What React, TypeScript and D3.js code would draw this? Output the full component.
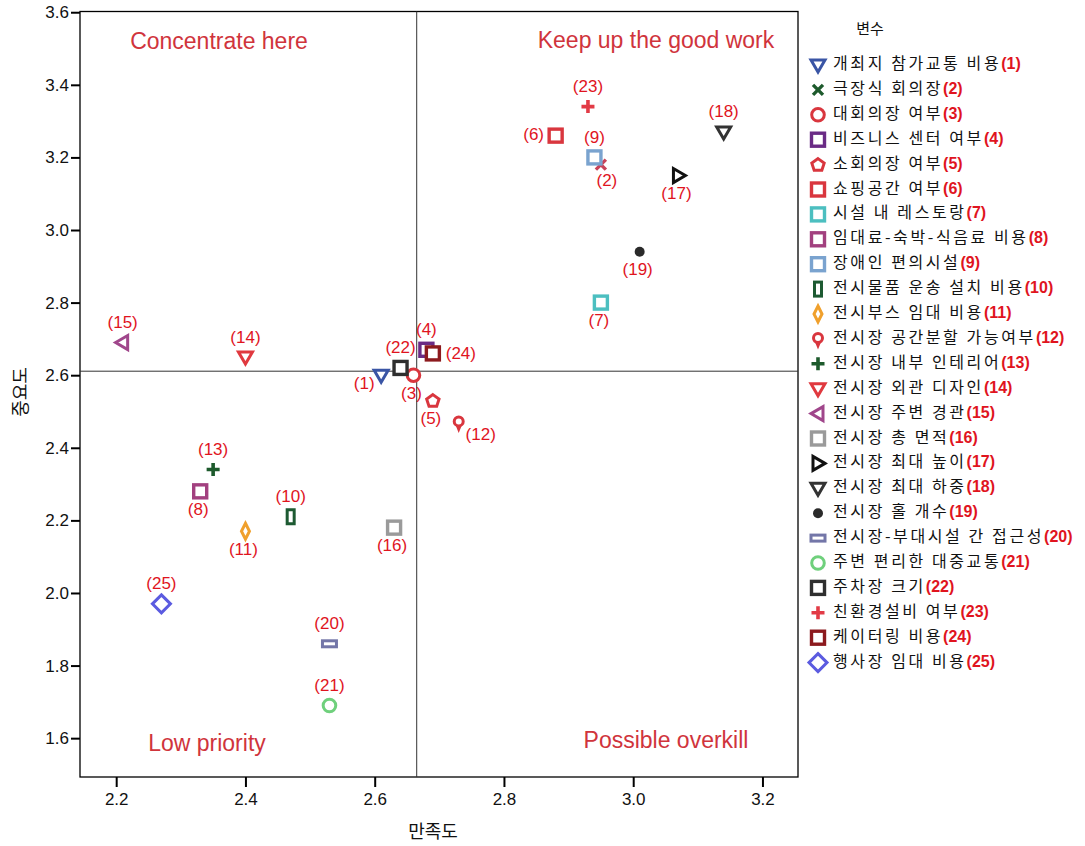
import * as d3 from 'd3';
import { useEffect, useRef } from 'react';

// variable names (legend order)
const names = [
  '개최지 참가교통 비용', '극장식 회의장', '대회의장 여부', '비즈니스 센터 여부', '소회의장 여부',
  '쇼핑공간 여부', '시설 내 레스토랑', '임대료-숙박-식음료 비용', '장애인 편의시설', '전시물품 운송 설치 비용',
  '전시부스 임대 비용', '전시장 공간분할 가능여부', '전시장 내부 인테리어', '전시장 외관 디자인', '전시장 주변 경관',
  '전시장 총 면적', '전시장 최대 높이', '전시장 최대 하중', '전시장 홀 개수', '전시장-부대시설 간 접근성',
  '주변 편리한 대중교통', '주차장 크기', '친환경설비 여부', '케이터링 비용', '행사장 임대 비용',
];

// satisfaction (x) and importance (y)
const satisfaction = [
  2.61, 2.95, 2.66, 2.68, 2.69, 2.88, 2.95, 2.33, 2.94, 2.47,
  2.40, 2.73, 2.35, 2.40, 2.21, 2.63, 3.07, 3.14, 3.01, 2.53,
  2.53, 2.64, 2.93, 2.69, 2.27,
];
const importance = [
  2.60, 3.18, 2.60, 2.67, 2.53, 3.26, 2.80, 2.28, 3.20, 2.21,
  2.17, 2.47, 2.34, 2.65, 2.69, 2.18, 3.15, 3.27, 2.94, 1.86,
  1.69, 2.62, 3.34, 2.66, 1.97,
];

const symbols = [
  'triDown', 'cross', 'circle', 'square', 'pentagon', 'square', 'square', 'square', 'square', 'tallRect',
  'thinDiamond', 'pin', 'plus', 'triDown', 'triLeft', 'square', 'triRight', 'triDown', 'dot', 'wideRect',
  'circle', 'square', 'plus', 'square', 'diamond',
];
const colors = [
  '#3a55a5', '#1d5a2c', '#d9363e', '#6a2b85', '#d9363e', '#d9363e', '#4cbfc0', '#a2407f', '#7aa3cf', '#1d5a32',
  '#f0a02c', '#d9363e', '#1d5a2c', '#e0393f', '#a0468b', '#9a9a9a', '#111111', '#333333', '#2a2a2a', '#7376a8',
  '#6fd07c', '#2f2f2f', '#e23b46', '#8c1a1e', '#5b5be0',
];
// marker (2) appears reddish inside the plot
const plotColorOverride: Record<number, string> = { 1: '#c8435a' };

// label placement relative to marker
const labelPos = [
  'BL', 'B2', 'B', 'T', 'B', 'L', 'B', 'B', 'T', 'T',
  'B', 'BR', 'T', 'T', 'T', 'B', 'B', 'T', 'B', 'T',
  'T', 'T', 'T', 'R', 'T',
];

const quadrantLabels = ['Concentrate here', 'Keep up the good work', 'Low priority', 'Possible overkill'];
const xTicks = [2.2, 2.4, 2.6, 2.8, 3.0, 3.2];
const yTicks = [1.6, 1.8, 2.0, 2.2, 2.4, 2.6, 2.8, 3.0, 3.2, 3.4, 3.6];
const meanX = 2.665;
const meanY = 2.611;

const offsets: Record<string, [number, number]> = {
  T: [0, -19], B: [-2, 19], L: [-22, 0], R: [28, 1], BL: [-17, 9], BR: [22, 13], B2: [6, 17],
};

const RED = '#e0141e';
const LATIN = 'Arial, "Liberation Sans", Helvetica, sans-serif';
const KOREAN = '"Noto Sans CJK KR", "Noto Sans", sans-serif';

function drawSymbol(g: d3.Selection<SVGGElement, unknown, null, undefined>, type: string, color: string) {
  const sw = 3;
  switch (type) {
    case 'square':
      g.append('rect').attr('x', -6.5).attr('y', -6.5).attr('width', 13).attr('height', 13)
        .attr('fill', '#fff').attr('stroke', color).attr('stroke-width', 3.4);
      break;
    case 'tallRect':
      g.append('rect').attr('x', -3.5).attr('y', -7).attr('width', 7).attr('height', 14)
        .attr('fill', '#fff').attr('stroke', color).attr('stroke-width', sw);
      break;
    case 'wideRect':
      g.append('rect').attr('x', -7).attr('y', -3).attr('width', 14).attr('height', 6)
        .attr('fill', '#fff').attr('stroke', color).attr('stroke-width', sw);
      break;
    case 'circle':
      g.append('circle').attr('r', 6.3).attr('fill', '#fff').attr('stroke', color).attr('stroke-width', sw);
      break;
    case 'dot':
      g.append('circle').attr('r', 5).attr('fill', color);
      break;
    case 'triDown':
      g.append('path').attr('d', 'M-7,-5L7,-5L0,7Z').attr('fill', '#fff')
        .attr('stroke', color).attr('stroke-width', sw).attr('stroke-linejoin', 'miter');
      break;
    case 'triLeft':
      g.append('path').attr('d', 'M-7,0L5,-7L5,7Z').attr('fill', '#fff')
        .attr('stroke', color).attr('stroke-width', sw);
      break;
    case 'triRight':
      g.append('path').attr('d', 'M7,0L-5,-7L-5,7Z').attr('fill', '#fff')
        .attr('stroke', color).attr('stroke-width', sw);
      break;
    case 'pentagon': {
      const pts = d3.range(5).map((i) => {
        const a = -Math.PI / 2 + (i * 2 * Math.PI) / 5;
        return [Math.cos(a) * 6.5, Math.sin(a) * 6.5 + 0.5];
      });
      g.append('path').attr('d', 'M' + pts.map((p) => p.join(',')).join('L') + 'Z')
        .attr('fill', '#fff').attr('stroke', color).attr('stroke-width', sw);
      break;
    }
    case 'diamond':
      g.append('path').attr('d', 'M0,-9L9,0L0,9L-9,0Z').attr('fill', '#fff')
        .attr('stroke', color).attr('stroke-width', sw);
      break;
    case 'thinDiamond':
      g.append('path').attr('d', 'M0,-8L4,0L0,8L-4,0Z').attr('fill', '#fff')
        .attr('stroke', color).attr('stroke-width', 3);
      break;
    case 'plus':
      g.append('path').attr('d', 'M-6.5,0H6.5M0,-6.5V6.5').attr('stroke', color).attr('stroke-width', 3.6);
      break;
    case 'cross':
      g.append('path').attr('d', 'M-5,-5L5,5M5,-5L-5,5').attr('stroke', color).attr('stroke-width', 3.4);
      break;
    case 'pin':
      g.append('path').attr('d', 'M-2,3L0,8L2,3Z').attr('fill', color).attr('stroke', color).attr('stroke-width', 2);
      g.append('circle').attr('cy', -1).attr('r', 4.5).attr('fill', '#fff')
        .attr('stroke', color).attr('stroke-width', 3);
      break;
  }
}

const App = () => {
  const svgRef = useRef<SVGSVGElement | null>(null);

  useEffect(() => {
    const width = 1085;
    const height = 846;
    const plot = { left: 80, right: 798, top: 11.5, bottom: 777 };

    const x = d3.scaleLinear().domain([2.144, 3.255]).range([plot.left, plot.right]);
    const y = d3.scaleLinear().domain([1.493, 3.602]).range([plot.bottom, plot.top]);

    const svg = d3.select(svgRef.current).attr('width', width).attr('height', height);
    svg.selectAll('*').remove();

    svg.append('rect').attr('width', width).attr('height', height).attr('fill', '#fff');

    // frame
    svg.append('rect')
      .attr('x', plot.left).attr('y', plot.top)
      .attr('width', plot.right - plot.left).attr('height', plot.bottom - plot.top)
      .attr('fill', 'none').attr('stroke', '#000').attr('stroke-width', 1.3);

    // axes
    const xAxis = svg.append('g')
      .attr('transform', `translate(0,${plot.bottom})`)
      .call(d3.axisBottom(x).tickValues(xTicks).tickFormat(d3.format('.1f')).tickSize(10).tickPadding(6).tickSizeOuter(0));
    const yAxis = svg.append('g')
      .attr('transform', `translate(${plot.left},0)`)
      .call(d3.axisLeft(y).tickValues(yTicks).tickFormat(d3.format('.1f')).tickSize(9).tickPadding(2).tickSizeOuter(0));
    [xAxis, yAxis].forEach((ax) => {
      ax.select('.domain').remove();
      ax.selectAll('line').attr('stroke', '#000').attr('stroke-width', 2);
      ax.selectAll('text').attr('font-family', LATIN).attr('font-size', 17).attr('fill', '#111');
    });

    // mean lines
    svg.append('line')
      .attr('x1', x(meanX)).attr('x2', x(meanX)).attr('y1', plot.top).attr('y2', plot.bottom)
      .attr('stroke', '#333').attr('stroke-width', 1);
    svg.append('line')
      .attr('x1', plot.left).attr('x2', plot.right).attr('y1', y(meanY)).attr('y2', y(meanY))
      .attr('stroke', '#333').attr('stroke-width', 1);

    // quadrant labels
    const qPos = [
      [219, 43], [656, 42], [207, 745], [666, 742],
    ];
    quadrantLabels.forEach((t, i) => {
      svg.append('text')
        .attr('x', qPos[i][0]).attr('y', qPos[i][1])
        .attr('text-anchor', 'middle').attr('dominant-baseline', 'middle')
        .attr('font-family', LATIN).attr('font-size', 23).attr('fill', '#d0343c')
        .text(t);
    });

    // points
    const order = d3.range(names.length);
    order.forEach((i) => {
      const g = svg.append('g').attr('transform', `translate(${x(satisfaction[i])},${y(importance[i])})`);
      drawSymbol(g, symbols[i], plotColorOverride[i] ?? colors[i]);
    });
    order.forEach((i) => {
      const [dx, dy] = offsets[labelPos[i]];
      svg.append('text')
        .attr('x', x(satisfaction[i]) + dx).attr('y', y(importance[i]) + dy)
        .attr('text-anchor', 'middle').attr('dominant-baseline', 'middle')
        .attr('font-family', LATIN).attr('font-size', 17).attr('fill', RED)
        .text(`(${i + 1})`);
    });

    // axis titles
    svg.append('text')
      .attr('x', 433).attr('y', 833)
      .attr('text-anchor', 'middle').attr('dominant-baseline', 'middle')
      .attr('font-family', KOREAN).attr('font-size', 18).attr('fill', '#111')
      .text('만족도');
    svg.append('text')
      .attr('transform', 'translate(22,392) rotate(-90)')
      .attr('text-anchor', 'middle').attr('dominant-baseline', 'middle')
      .attr('font-family', KOREAN).attr('font-size', 18).attr('fill', '#111')
      .text('중요도');

    // legend
    const legend = svg.append('g');
    legend.append('text')
      .attr('x', 870).attr('y', 30)
      .attr('text-anchor', 'middle').attr('dominant-baseline', 'middle')
      .attr('font-family', KOREAN).attr('font-size', 15).attr('fill', '#111')
      .text('변수');
    names.forEach((n, i) => {
      const ly = 65 + i * 24.9;
      const g = legend.append('g').attr('transform', `translate(818,${ly})`);
      drawSymbol(g, symbols[i], colors[i]);
      const t = legend.append('text')
        .attr('x', 833).attr('y', ly)
        .attr('dominant-baseline', 'middle')
        .attr('font-family', KOREAN).attr('font-size', 16).attr('fill', '#111');
      t.append('tspan').attr('letter-spacing', 2.6).text(n);
      t.append('tspan')
        .attr('font-family', LATIN).attr('font-weight', 'bold').attr('fill', RED)
        .text(`(${i + 1})`);
    });
  }, []);

  return <svg ref={svgRef} style={{ position: 'absolute', left: 0, top: 0 }}></svg>;
};

export default App;
